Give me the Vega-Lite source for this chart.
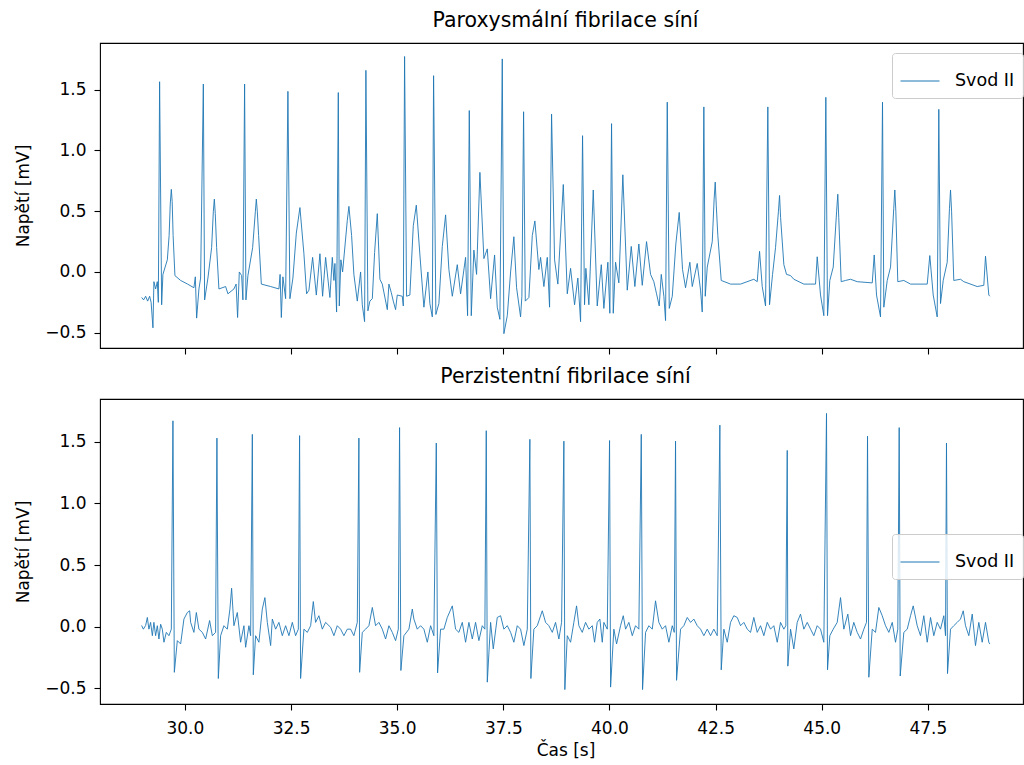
{
"$schema": "https://vega.github.io/schema/vega-lite/v6.json",
"padding": {"left": 14, "top": 9, "right": 0, "bottom": 0},
"background": "white",
"config": {
  "font": "DejaVu Sans",
  "view": {"stroke": "#000000", "strokeWidth": 1.1},
  "axis": {"grid": false, "domain": false, "tickColor": "#000000", "tickSize": 6, "tickWidth": 1.1, "labelFont": "DejaVu Sans", "labelFontSize": 17, "labelColor": "#000000", "titleFont": "DejaVu Sans", "titleFontSize": 17, "titleFontWeight": "normal", "titleColor": "#000000"},
  "title": {"font": "DejaVu Sans", "fontSize": 20.5, "fontWeight": "normal", "color": "#000000", "anchor": "middle", "baseline": "alphabetic", "offset": 12, "dx": 4},
  "legend": {"title": null, "orient": "none", "symbolType": "stroke", "symbolSize": 1521, "symbolStrokeWidth": 1, "labelFont": "DejaVu Sans", "labelFontSize": 17.5, "labelColor": "#000000", "labelOffset": 15, "padding": 8, "strokeColor": "#cccccc", "fillColor": "rgba(255,255,255,0.8)", "cornerRadius": 3}
},
"spacing": 9,
"resolve": {"scale": {"color": "independent"}, "legend": {"color": "independent"}},
"datasets": {
"a": [
{"t":28.981,"v":-0.21},{"t":29.027,"v":-0.23},{"t":29.075,"v":-0.2},{"t":29.122,"v":-0.24},{"t":29.169,"v":-0.2},{"t":29.204,"v":-0.25},{"t":29.247,"v":-0.46},{"t":29.27,"v":-0.08},{"t":29.31,"v":-0.14},{"t":29.35,"v":-0.08},{"t":29.374,"v":-0.25},{"t":29.404,"v":1.566},{"t":29.452,"v":-0.27},{"t":29.482,"v":-0.02},{"t":29.586,"v":0.1},{"t":29.628,"v":0.3},{"t":29.655,"v":0.56},{"t":29.68,"v":0.68},{"t":29.7,"v":0.58},{"t":29.722,"v":0.3},{"t":29.765,"v":-0.03},{"t":29.899,"v":-0.07},{"t":30.064,"v":-0.1},{"t":30.212,"v":-0.13},{"t":30.245,"v":-0.04},{"t":30.276,"v":-0.38},{"t":30.33,"v":-0.14},{"t":30.37,"v":-0.05},{"t":30.434,"v":1.547},{"t":30.464,"v":-0.23},{"t":30.542,"v":-0.05},{"t":30.629,"v":0.2},{"t":30.67,"v":0.5},{"t":30.693,"v":0.6},{"t":30.715,"v":0.48},{"t":30.747,"v":0.2},{"t":30.801,"v":-0.14},{"t":30.959,"v":-0.12},{"t":31.013,"v":-0.18},{"t":31.154,"v":-0.14},{"t":31.206,"v":-0.1},{"t":31.241,"v":-0.375},{"t":31.281,"v":0.0},{"t":31.336,"v":-0.03},{"t":31.366,"v":-0.23},{"t":31.406,"v":1.547},{"t":31.437,"v":-0.23},{"t":31.484,"v":-0.03},{"t":31.595,"v":0.2},{"t":31.66,"v":0.5},{"t":31.682,"v":0.6},{"t":31.705,"v":0.5},{"t":31.736,"v":0.3},{"t":31.8,"v":-0.1},{"t":32.019,"v":-0.12},{"t":32.214,"v":-0.14},{"t":32.242,"v":-0.02},{"t":32.271,"v":-0.375},{"t":32.308,"v":-0.04},{"t":32.372,"v":-0.22},{"t":32.426,"v":1.487},{"t":32.473,"v":-0.22},{"t":32.544,"v":-0.05},{"t":32.624,"v":0.32},{"t":32.709,"v":0.53},{"t":32.803,"v":0.15},{"t":32.866,"v":-0.18},{"t":32.921,"v":-0.15},{"t":33.008,"v":0.12},{"t":33.095,"v":-0.19},{"t":33.18,"v":0.15},{"t":33.243,"v":-0.2},{"t":33.314,"v":0.12},{"t":33.415,"v":-0.21},{"t":33.472,"v":0.12},{"t":33.509,"v":-0.07},{"t":33.533,"v":0.07},{"t":33.573,"v":-0.33},{"t":33.613,"v":1.477},{"t":33.636,"v":-0.28},{"t":33.674,"v":0.1},{"t":33.714,"v":0.0},{"t":33.825,"v":0.425},{"t":33.863,"v":0.54},{"t":33.926,"v":0.3},{"t":33.98,"v":-0.02},{"t":34.06,"v":-0.24},{"t":34.138,"v":0.0},{"t":34.178,"v":-0.27},{"t":34.232,"v":-0.409},{"t":34.263,"v":1.66},{"t":34.31,"v":-0.32},{"t":34.357,"v":-0.24},{"t":34.414,"v":-0.22},{"t":34.468,"v":0.16},{"t":34.531,"v":0.48},{"t":34.593,"v":-0.06},{"t":34.649,"v":-0.1},{"t":34.767,"v":-0.31},{"t":34.805,"v":-0.1},{"t":34.861,"v":-0.17},{"t":34.908,"v":-0.24},{"t":34.962,"v":-0.31},{"t":35.002,"v":-0.19},{"t":35.12,"v":-0.2},{"t":35.144,"v":-0.28},{"t":35.174,"v":1.774},{"t":35.221,"v":-0.2},{"t":35.299,"v":-0.19},{"t":35.379,"v":0.38},{"t":35.45,"v":0.55},{"t":35.535,"v":0.14},{"t":35.629,"v":-0.29},{"t":35.723,"v":0.0},{"t":35.77,"v":-0.26},{"t":35.827,"v":-0.37},{"t":35.857,"v":1.616},{"t":35.911,"v":-0.35},{"t":35.982,"v":-0.26},{"t":36.062,"v":0.21},{"t":36.14,"v":0.47},{"t":36.218,"v":0.02},{"t":36.298,"v":-0.2},{"t":36.415,"v":0.06},{"t":36.493,"v":-0.18},{"t":36.611,"v":0.12},{"t":36.658,"v":-0.36},{"t":36.698,"v":1.329},{"t":36.745,"v":-0.36},{"t":36.806,"v":0.18},{"t":36.87,"v":-0.02},{"t":36.948,"v":0.82},{"t":37.042,"v":0.11},{"t":37.122,"v":0.19},{"t":37.2,"v":-0.22},{"t":37.294,"v":0.14},{"t":37.357,"v":-0.29},{"t":37.419,"v":-0.39},{"t":37.475,"v":1.754},{"t":37.513,"v":-0.508},{"t":37.593,"v":-0.36},{"t":37.671,"v":0.0},{"t":37.748,"v":0.29},{"t":37.812,"v":-0.13},{"t":37.906,"v":-0.37},{"t":37.937,"v":-0.2},{"t":37.977,"v":1.319},{"t":38.017,"v":-0.24},{"t":38.102,"v":-0.21},{"t":38.182,"v":0.3},{"t":38.243,"v":0.42},{"t":38.337,"v":0.02},{"t":38.377,"v":0.12},{"t":38.455,"v":-0.12},{"t":38.535,"v":0.12},{"t":38.589,"v":-0.29},{"t":38.636,"v":1.3},{"t":38.707,"v":0.1},{"t":38.784,"v":-0.1},{"t":38.912,"v":0.72},{"t":39.006,"v":-0.18},{"t":39.084,"v":0.03},{"t":39.178,"v":-0.27},{"t":39.255,"v":-0.05},{"t":39.319,"v":-0.409},{"t":39.366,"v":1.122},{"t":39.413,"v":-0.27},{"t":39.444,"v":0.03},{"t":39.515,"v":-0.27},{"t":39.618,"v":0.675},{"t":39.712,"v":-0.28},{"t":39.807,"v":0.06},{"t":39.868,"v":-0.3},{"t":39.962,"v":0.08},{"t":40.009,"v":-0.34},{"t":40.049,"v":1.221},{"t":40.089,"v":-0.34},{"t":40.143,"v":0.08},{"t":40.221,"v":-0.09},{"t":40.315,"v":0.8},{"t":40.419,"v":-0.15},{"t":40.513,"v":0.21},{"t":40.598,"v":-0.12},{"t":40.692,"v":0.23},{"t":40.772,"v":-0.11},{"t":40.873,"v":0.25},{"t":40.968,"v":-0.02},{"t":41.045,"v":-0.08},{"t":41.109,"v":-0.18},{"t":41.172,"v":-0.28},{"t":41.22,"v":-0.02},{"t":41.281,"v":-0.2},{"t":41.321,"v":-0.4},{"t":41.361,"v":1.398},{"t":41.408,"v":-0.3},{"t":41.479,"v":-0.2},{"t":41.563,"v":0.23},{"t":41.643,"v":0.49},{"t":41.721,"v":0.02},{"t":41.792,"v":-0.13},{"t":41.893,"v":0.08},{"t":41.95,"v":-0.12},{"t":42.067,"v":0.07},{"t":42.145,"v":-0.15},{"t":42.185,"v":-0.33},{"t":42.223,"v":1.359},{"t":42.256,"v":-0.2},{"t":42.303,"v":0.04},{"t":42.421,"v":0.25},{"t":42.465,"v":0.6},{"t":42.491,"v":0.74},{"t":42.515,"v":0.55},{"t":42.552,"v":0.3},{"t":42.632,"v":-0.07},{"t":42.852,"v":-0.1},{"t":43.087,"v":-0.1},{"t":43.4,"v":-0.06},{"t":43.48,"v":-0.08},{"t":43.535,"v":0.17},{"t":43.598,"v":-0.12},{"t":43.676,"v":-0.28},{"t":43.73,"v":1.359},{"t":43.77,"v":-0.27},{"t":43.841,"v":-0.02},{"t":43.911,"v":0.2},{"t":43.98,"v":0.5},{"t":44.006,"v":0.63},{"t":44.03,"v":0.45},{"t":44.107,"v":0.06},{"t":44.17,"v":-0.02},{"t":44.265,"v":-0.03},{"t":44.342,"v":-0.06},{"t":44.578,"v":-0.1},{"t":44.853,"v":-0.1},{"t":44.893,"v":0.125},{"t":44.971,"v":-0.19},{"t":45.049,"v":-0.36},{"t":45.096,"v":1.438},{"t":45.136,"v":-0.36},{"t":45.19,"v":-0.07},{"t":45.27,"v":0.04},{"t":45.35,"v":0.5},{"t":45.378,"v":0.64},{"t":45.4,"v":0.45},{"t":45.458,"v":-0.08},{"t":45.56,"v":-0.07},{"t":45.678,"v":-0.06},{"t":45.835,"v":-0.08},{"t":46.189,"v":-0.09},{"t":46.236,"v":0.14},{"t":46.29,"v":-0.19},{"t":46.384,"v":-0.37},{"t":46.431,"v":1.398},{"t":46.462,"v":-0.29},{"t":46.542,"v":-0.07},{"t":46.62,"v":0.04},{"t":46.695,"v":0.52},{"t":46.721,"v":0.675},{"t":46.745,"v":0.5},{"t":46.791,"v":-0.08},{"t":46.933,"v":-0.07},{"t":47.091,"v":-0.1},{"t":47.484,"v":-0.1},{"t":47.545,"v":0.135},{"t":47.625,"v":-0.19},{"t":47.719,"v":-0.37},{"t":47.757,"v":1.339},{"t":47.797,"v":-0.26},{"t":47.861,"v":-0.07},{"t":47.955,"v":0.08},{"t":48.008,"v":0.52},{"t":48.033,"v":0.675},{"t":48.058,"v":0.5},{"t":48.11,"v":-0.07},{"t":48.268,"v":-0.06},{"t":48.346,"v":-0.08},{"t":48.661,"v":-0.12},{"t":48.817,"v":-0.11},{"t":48.857,"v":0.13},{"t":48.935,"v":-0.19},{"t":48.958,"v":-0.2}
],
"b": [
{"t":28.981,"v":0.01},{"t":29.021,"v":-0.02},{"t":29.075,"v":0.01},{"t":29.115,"v":0.075},{"t":29.152,"v":-0.02},{"t":29.192,"v":0.035},{"t":29.233,"v":-0.073},{"t":29.27,"v":0.035},{"t":29.31,"v":-0.073},{"t":29.35,"v":0.008},{"t":29.388,"v":-0.1},{"t":29.428,"v":0.02},{"t":29.468,"v":-0.02},{"t":29.506,"v":-0.126},{"t":29.562,"v":-0.046},{"t":29.624,"v":-0.073},{"t":29.68,"v":-0.02},{"t":29.718,"v":1.67},{"t":29.751,"v":-0.37},{"t":29.821,"v":-0.113},{"t":29.899,"v":-0.14},{"t":29.977,"v":0.062},{"t":30.057,"v":0.115},{"t":30.111,"v":0.129},{"t":30.135,"v":0.035},{"t":30.212,"v":-0.046},{"t":30.269,"v":0.115},{"t":30.33,"v":-0.02},{"t":30.41,"v":-0.046},{"t":30.488,"v":-0.1},{"t":30.582,"v":0.05},{"t":30.646,"v":-0.073},{"t":30.723,"v":-0.046},{"t":30.754,"v":1.53},{"t":30.787,"v":-0.42},{"t":30.841,"v":-0.073},{"t":30.919,"v":0.008},{"t":30.999,"v":-0.02},{"t":31.06,"v":0.143},{"t":31.1,"v":0.312},{"t":31.154,"v":0.008},{"t":31.234,"v":0.115},{"t":31.312,"v":-0.126},{"t":31.39,"v":0.008},{"t":31.43,"v":-0.167},{"t":31.508,"v":0.008},{"t":31.548,"v":-0.073},{"t":31.588,"v":1.56},{"t":31.611,"v":-0.39},{"t":31.665,"v":-0.073},{"t":31.743,"v":-0.126},{"t":31.823,"v":0.143},{"t":31.884,"v":0.236},{"t":31.941,"v":0.035},{"t":32.019,"v":-0.153},{"t":32.059,"v":0.062},{"t":32.136,"v":-0.02},{"t":32.214,"v":0.035},{"t":32.294,"v":-0.073},{"t":32.372,"v":0.008},{"t":32.45,"v":-0.073},{"t":32.53,"v":0.035},{"t":32.607,"v":-0.073},{"t":32.671,"v":-0.02},{"t":32.701,"v":1.55},{"t":32.725,"v":-0.42},{"t":32.803,"v":-0.02},{"t":32.883,"v":-0.046},{"t":32.961,"v":0.008},{"t":33.024,"v":0.204},{"t":33.078,"v":0.035},{"t":33.156,"v":0.089},{"t":33.236,"v":-0.02},{"t":33.314,"v":0.035},{"t":33.432,"v":-0.005},{"t":33.509,"v":-0.073},{"t":33.589,"v":0.008},{"t":33.667,"v":-0.02},{"t":33.745,"v":-0.073},{"t":33.825,"v":-0.02},{"t":33.903,"v":-0.02},{"t":33.98,"v":-0.073},{"t":34.06,"v":0.035},{"t":34.098,"v":1.53},{"t":34.115,"v":-0.37},{"t":34.178,"v":-0.046},{"t":34.256,"v":-0.02},{"t":34.334,"v":0.008},{"t":34.414,"v":0.156},{"t":34.491,"v":0.008},{"t":34.569,"v":0.035},{"t":34.649,"v":-0.02},{"t":34.727,"v":-0.1},{"t":34.805,"v":0.008},{"t":34.885,"v":-0.046},{"t":34.962,"v":-0.113},{"t":35.026,"v":-0.02},{"t":35.056,"v":1.615},{"t":35.087,"v":-0.355},{"t":35.158,"v":-0.073},{"t":35.276,"v":-0.02},{"t":35.356,"v":0.143},{"t":35.393,"v":0.062},{"t":35.473,"v":-0.02},{"t":35.551,"v":0.008},{"t":35.629,"v":-0.02},{"t":35.709,"v":-0.126},{"t":35.787,"v":0.008},{"t":35.864,"v":-0.073},{"t":35.921,"v":1.49},{"t":35.951,"v":-0.375},{"t":36.022,"v":-0.02},{"t":36.1,"v":-0.02},{"t":36.18,"v":0.075},{"t":36.298,"v":0.169},{"t":36.375,"v":-0.02},{"t":36.453,"v":-0.046},{"t":36.533,"v":0.035},{"t":36.611,"v":-0.126},{"t":36.689,"v":0.035},{"t":36.769,"v":-0.1},{"t":36.846,"v":0.035},{"t":36.924,"v":-0.113},{"t":37.004,"v":0.008},{"t":37.065,"v":-0.02},{"t":37.098,"v":1.59},{"t":37.122,"v":-0.45},{"t":37.2,"v":0.035},{"t":37.263,"v":-0.18},{"t":37.357,"v":0.075},{"t":37.435,"v":0.089},{"t":37.513,"v":-0.02},{"t":37.593,"v":0.008},{"t":37.671,"v":-0.046},{"t":37.748,"v":-0.126},{"t":37.828,"v":0.008},{"t":37.906,"v":-0.02},{"t":37.984,"v":-0.153},{"t":38.064,"v":-0.02},{"t":38.125,"v":1.52},{"t":38.149,"v":-0.42},{"t":38.219,"v":-0.02},{"t":38.299,"v":0.008},{"t":38.417,"v":0.129},{"t":38.495,"v":0.035},{"t":38.573,"v":0.008},{"t":38.653,"v":-0.046},{"t":38.73,"v":0.035},{"t":38.808,"v":-0.1},{"t":38.872,"v":0.035},{"t":38.926,"v":1.505},{"t":38.949,"v":-0.51},{"t":39.006,"v":-0.073},{"t":39.084,"v":-0.126},{"t":39.161,"v":0.035},{"t":39.225,"v":0.169},{"t":39.279,"v":0.008},{"t":39.359,"v":-0.046},{"t":39.437,"v":0.035},{"t":39.515,"v":-0.02},{"t":39.595,"v":0.008},{"t":39.649,"v":-0.126},{"t":39.712,"v":0.035},{"t":39.774,"v":0.062},{"t":39.83,"v":-0.126},{"t":39.868,"v":0.035},{"t":39.948,"v":-0.02},{"t":40.002,"v":1.51},{"t":40.026,"v":-0.49},{"t":40.103,"v":-0.02},{"t":40.167,"v":-0.14},{"t":40.261,"v":0.008},{"t":40.325,"v":0.089},{"t":40.379,"v":-0.02},{"t":40.457,"v":0.035},{"t":40.537,"v":-0.073},{"t":40.614,"v":0.008},{"t":40.692,"v":-0.02},{"t":40.749,"v":1.56},{"t":40.779,"v":-0.51},{"t":40.85,"v":-0.046},{"t":40.928,"v":0.008},{"t":41.008,"v":-0.02},{"t":41.085,"v":0.21},{"t":41.163,"v":0.035},{"t":41.243,"v":-0.02},{"t":41.321,"v":0.008},{"t":41.399,"v":-0.126},{"t":41.479,"v":0.008},{"t":41.526,"v":-0.046},{"t":41.556,"v":1.505},{"t":41.58,"v":-0.435},{"t":41.674,"v":-0.02},{"t":41.752,"v":0.008},{"t":41.832,"v":0.075},{"t":41.91,"v":0.035},{"t":41.987,"v":0.062},{"t":42.067,"v":0.008},{"t":42.145,"v":-0.02},{"t":42.223,"v":-0.073},{"t":42.303,"v":-0.02},{"t":42.381,"v":-0.073},{"t":42.458,"v":-0.02},{"t":42.538,"v":-0.073},{"t":42.6,"v":1.635},{"t":42.632,"v":-0.35},{"t":42.694,"v":-0.02},{"t":42.774,"v":-0.126},{"t":42.852,"v":0.035},{"t":42.929,"v":0.089},{"t":43.009,"v":0.075},{"t":43.087,"v":0.008},{"t":43.165,"v":0.035},{"t":43.245,"v":-0.02},{"t":43.323,"v":-0.046},{"t":43.4,"v":0.075},{"t":43.48,"v":-0.046},{"t":43.558,"v":0.008},{"t":43.636,"v":-0.073},{"t":43.716,"v":0.035},{"t":43.794,"v":-0.02},{"t":43.871,"v":0.008},{"t":43.951,"v":-0.126},{"t":44.029,"v":0.035},{"t":44.107,"v":-0.02},{"t":44.154,"v":0.008},{"t":44.187,"v":1.43},{"t":44.201,"v":-0.32},{"t":44.265,"v":-0.02},{"t":44.342,"v":-0.18},{"t":44.422,"v":0.035},{"t":44.5,"v":0.102},{"t":44.578,"v":-0.02},{"t":44.658,"v":0.035},{"t":44.736,"v":-0.02},{"t":44.813,"v":-0.073},{"t":44.893,"v":0.008},{"t":44.971,"v":-0.02},{"t":45.049,"v":-0.126},{"t":45.112,"v":1.73},{"t":45.136,"v":-0.35},{"t":45.19,"v":-0.073},{"t":45.27,"v":-0.02},{"t":45.364,"v":0.035},{"t":45.442,"v":0.236},{"t":45.52,"v":-0.02},{"t":45.614,"v":0.102},{"t":45.678,"v":-0.073},{"t":45.755,"v":0.035},{"t":45.835,"v":-0.046},{"t":45.913,"v":-0.1},{"t":45.991,"v":-0.02},{"t":46.054,"v":0.035},{"t":46.078,"v":1.545},{"t":46.109,"v":-0.41},{"t":46.189,"v":-0.02},{"t":46.266,"v":-0.046},{"t":46.344,"v":0.156},{"t":46.424,"v":0.089},{"t":46.502,"v":0.008},{"t":46.58,"v":-0.046},{"t":46.66,"v":0.035},{"t":46.737,"v":-0.126},{"t":46.791,"v":-0.02},{"t":46.824,"v":1.615},{"t":46.848,"v":-0.4},{"t":46.933,"v":-0.046},{"t":47.013,"v":-0.02},{"t":47.091,"v":0.089},{"t":47.154,"v":0.169},{"t":47.248,"v":0.008},{"t":47.326,"v":-0.073},{"t":47.404,"v":0.089},{"t":47.484,"v":-0.126},{"t":47.562,"v":0.075},{"t":47.639,"v":-0.073},{"t":47.719,"v":0.035},{"t":47.797,"v":-0.02},{"t":47.875,"v":0.089},{"t":47.915,"v":-0.073},{"t":47.938,"v":1.49},{"t":47.962,"v":-0.38},{"t":48.033,"v":-0.02},{"t":48.11,"v":0.008},{"t":48.19,"v":0.035},{"t":48.268,"v":0.062},{"t":48.332,"v":0.129},{"t":48.386,"v":0.008},{"t":48.464,"v":-0.073},{"t":48.544,"v":0.102},{"t":48.621,"v":-0.153},{"t":48.699,"v":0.035},{"t":48.779,"v":-0.126},{"t":48.857,"v":0.035},{"t":48.935,"v":-0.126},{"t":48.958,"v":-0.14}
]
},
"vconcat": [
  {
    "title": "Paroxysmální fibrilace síní",
    "width": 923, "height": 305,
    "data": {"name": "a"},
    "mark": {"type": "line", "strokeWidth": 0.9, "clip": true},
    "encoding": {
      "x": {"field": "t", "type": "quantitative", "scale": {"domain": [28, 49.74], "nice": false, "zero": false}, "axis": {"values": [30, 32.5, 35, 37.5, 40, 42.5, 45, 47.5], "labels": false, "title": null}},
      "y": {"field": "v", "type": "quantitative", "scale": {"domain": [-0.626, 1.885], "nice": false, "zero": false}, "axis": {"values": [-0.5, 0, 0.5, 1, 1.5], "format": ".1f", "title": "Napětí [mV]", "labelPadding": 8, "titlePadding": 12}},
      "color": {"datum": "Svod II", "type": "nominal", "scale": {"range": ["#1f77b4"]}, "legend": {"legendX": 792, "legendY": 10}}
    }
  },
  {
    "title": "Perzistentní fibrilace síní",
    "width": 923, "height": 305,
    "data": {"name": "b"},
    "mark": {"type": "line", "strokeWidth": 0.9, "clip": true},
    "encoding": {
      "x": {"field": "t", "type": "quantitative", "scale": {"domain": [28, 49.74], "nice": false, "zero": false}, "axis": {"values": [30, 32.5, 35, 37.5, 40, 42.5, 45, 47.5], "format": ".1f", "title": "Čas [s]", "labelPadding": 10, "titlePadding": 6, "titleX": 465.5}},
      "y": {"field": "v", "type": "quantitative", "scale": {"domain": [-0.627, 1.847], "nice": false, "zero": false}, "axis": {"values": [-0.5, 0, 0.5, 1, 1.5], "format": ".1f", "title": "Napětí [mV]", "labelPadding": 8, "titlePadding": 12}},
      "color": {"datum": "Svod II", "type": "nominal", "scale": {"range": ["#1f77b4"]}, "legend": {"legendX": 792, "legendY": 135}}
    }
  }
]
}
